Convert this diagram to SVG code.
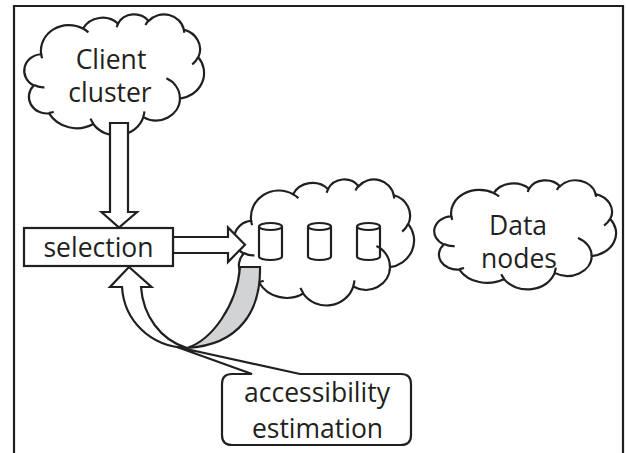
<svg xmlns="http://www.w3.org/2000/svg" width="626" height="453" viewBox="0 0 626 453">
<style>
.ln{stroke:#231f20;stroke-width:2.2;stroke-linejoin:miter;}
.cl{fill:#fff;stroke:#231f20;stroke-width:2.2;vector-effect:non-scaling-stroke;}
.ci{fill:none;stroke:#231f20;stroke-width:2.2;vector-effect:non-scaling-stroke;}
.wf{fill:#fff;}
.gf{fill:#d2d3d5;}
.nf{fill:none;}
.t{font-family:"Open Sans","Liberation Sans",sans-serif;font-size:26.5px;fill:#231f20;text-anchor:middle;}
</style>
<defs>
<g id="cloud">
<path class="cl" d="M3900 14370 A6753 9190 0 0 1 14006 5202 A5333 7267 0 0 1 22457 3432 A4365 5945 0 0 1 29835 2481 A4857 6595 0 0 1 38320 5575 A5333 7273 0 0 1 41821 15459 A6775 9220 0 0 1 37406 30204 A5785 7867 0 0 1 28557 36814 A6752 9215 0 0 1 16483 39268 A7720 10543 0 0 1 5806 35474 A4360 5918 0 0 1 2115 25550 A4345 5945 0 0 1 3900 14370 Z"/>
<path class="ci" d="M4693 26177 A4345 5945 0 0 1 2159 25380 M6928 34899 A4360 5918 0 0 1 5820 35281 M16478 39090 A6752 9215 0 0 1 15809 37347 M28827 34751 A6752 9215 0 0 1 28560 36661 M34129 22954 A5785 7867 0 0 1 37379 30089 M41798 15354 A5333 7273 0 0 1 40350 18030 M38324 5426 A4857 6595 0 0 1 38401 6691 M29078 3952 A4857 6595 0 0 1 29820 2340 M22141 4720 A4365 5945 0 0 1 22500 3331 M14000 5192 A6753 9190 0 0 1 15300 6540 M4127 15789 A6753 9190 0 0 1 3900 14372"/>
</g>
<path id="cyl" d="M0 3.5 L0 33.5 A11.5 3.5 0 0 0 23 33.5 L23 3.5 M0 3.5 A11.5 3.5 0 0 1 23 3.5 A11.5 3.5 0 0 1 0 3.5"/>
</defs>
<path id="frame" class="ln nf" d="M14 453 L14 6 L623 6 L623 453"/>
<g id="client-cluster">
<use href="#cloud" transform="translate(25,14) scale(0.0041435,0.0028009)"/>
<text class="t" x="111" y="69">Client</text>
<text class="t" x="110" y="102">cluster</text>
</g>
<g id="data-cluster">
<use href="#cloud" transform="translate(235,179) scale(0.0041435,0.0029167)"/>
<use href="#cyl" class="ln nf" transform="translate(259,223)"/>
<use href="#cyl" class="ln nf" transform="translate(308,223)"/>
<use href="#cyl" class="ln nf" transform="translate(357,223)"/>
</g>
<g id="data-nodes">
<use href="#cloud" transform="translate(435,180) scale(0.0041898,0.0025231)"/>
<text class="t" x="518" y="235">Data</text>
<text class="t" x="519" y="268">nodes</text>
</g>
<g id="connectors">
<path class="ln wf" d="M110 123 L128 123 L128 212 L137 212 L119 227.5 L101.5 212 L110 212 Z"/>
<path class="ln wf" d="M173 237 L228 237 L228 227.5 L245 244.7 L228 262 L228 253 L173 253 Z"/>
<path class="ln gf" d="M240 267 L260 267 C261 310 240 345 187 348 C212 340 237 305 240 267 Z"/>
<path class="ln wf" d="M141 287 L151.5 287 L129 267 L110 287 L122 287 C124 320 150 347 187 348 C160 340 143 315 141 287 Z"/>
</g>
<g id="selection">
<rect class="ln wf" x="24" y="228" width="149" height="38"/>
<text class="t" x="98.5" y="257">selection</text>
</g>
<g id="accessibility-estimation">
<path class="ln wf" d="M232 374 L252 374 L177 347 L300 374 L401 374 Q411 374 411 384 L411 435 Q411 445 401 445 L232 445 Q222 445 222 435 L222 384 Q222 374 232 374 Z"/>
<text class="t" x="317" y="402">accessibility</text>
<text class="t" x="317.5" y="438">estimation</text>
</g>
</svg>
